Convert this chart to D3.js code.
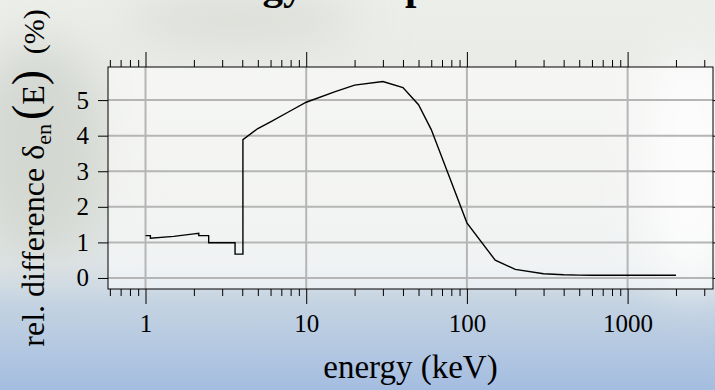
<!DOCTYPE html>
<html>
<head>
<meta charset="utf-8">
<script src="https://cdn.jsdelivr.net/npm/d3@7"></script>
<style>
  html, body { margin: 0; padding: 0; background: #e8ebe8; }
  svg { display: block; font-family: "Liberation Serif", "Times New Roman", serif; }
</style>
</head>
<body>
<svg id="chart" width="715" height="390"></svg>
<script>
// energy grid (keV), absorption edges appear twice
const energies = [1, 1.0721, 1.0721, 1.5, 2, 2.1455, 2.1455, 2.472, 2.472, 3, 3.6074, 3.6074, 4,
  4.0381, 4.0381, 5, 6, 8, 10, 15, 20, 30, 40, 50, 60, 80, 100, 150, 200, 300, 400, 500, 600,
  800, 1000, 1250, 1500, 2000];
// relative difference (%)
const relDiff = [1.19, 1.19, 1.115, 1.17, 1.24, 1.255, 1.19, 1.19, 0.99, 0.99, 0.99, 0.67, 0.67,
  0.67, 3.89, 4.2, 4.39, 4.7, 4.94, 5.23, 5.42, 5.52, 5.35, 4.87, 4.17, 2.7, 1.55, 0.5, 0.24,
  0.12, 0.09, 0.08, 0.078, 0.076, 0.075, 0.075, 0.075, 0.075];

const xMajor = [1, 10, 100, 1000];
const yTicks = [0, 1, 2, 3, 4, 5];

const titleText = "Energy transport";
const xLabel = "energy (keV)";

const svg = d3.select("#chart");
const W = 715, H = 390;
const plot = { left: 108, right: 713, top: 67, bottom: 289 };

// background imitation (photo behind the slide)
const defs = svg.append("defs");
const bg = defs.append("linearGradient").attr("id", "bg").attr("x1", 0).attr("y1", 0).attr("x2", 0).attr("y2", 1);
[[0, "#eceeea"], [0.5, "#e4e7e3"], [0.68, "#dde3e6"], [0.78, "#c4d3e2"], [1, "#a4bde0"]]
  .forEach(s => bg.append("stop").attr("offset", s[0]).attr("stop-color", s[1]));
defs.append("filter").attr("id", "blur").attr("x", "-50%").attr("y", "-50%").attr("width", "200%").attr("height", "200%")
  .append("feGaussianBlur").attr("stdDeviation", 25);

svg.append("rect").attr("width", W).attr("height", H).attr("fill", "url(#bg)");
const blobs = svg.append("g").attr("filter", "url(#blur)");
blobs.append("ellipse").attr("cx", 40).attr("cy", 150).attr("rx", 70).attr("ry", 110).attr("fill", "#d4d8d2");
blobs.append("ellipse").attr("cx", 240).attr("cy", 20).attr("rx", 120).attr("ry", 25).attr("fill", "#d9ddd6");
blobs.append("ellipse").attr("cx", 690).attr("cy", 170).attr("rx", 40).attr("ry", 120).attr("fill", "#fafbfa");

// title (mostly outside the picture)
svg.append("text")
  .attr("x", 176).attr("y", -1)
  .attr("font-size", 41).attr("font-weight", "bold")
  .text(titleText);

// plot panel
svg.append("rect")
  .attr("x", plot.left).attr("y", plot.top)
  .attr("width", plot.right - plot.left).attr("height", plot.bottom - plot.top)
  .attr("fill", "#ffffff").attr("fill-opacity", 0.55);

const x = d3.scaleLog().domain([0.5842, 3400]).range([plot.left, plot.right]);
const y = d3.scaleLinear().domain([-0.31, 5.93]).range([plot.bottom, plot.top]);

const xMinor = x.ticks().filter(v => !xMajor.some(m => Math.abs(m - v) < 1e-9));

// grid
const grid = svg.append("g").attr("stroke", "#b5b5b5").attr("stroke-width", 2);
grid.selectAll(".gx").data(xMajor).join("line")
  .attr("x1", d => x(d)).attr("x2", d => x(d)).attr("y1", plot.top).attr("y2", plot.bottom);
grid.selectAll(".gy").data(yTicks).join("line")
  .attr("y1", d => y(d)).attr("y2", d => y(d)).attr("x1", plot.left).attr("x2", plot.right);

// curve
const line = d3.line().x((d, i) => x(energies[i])).y(d => y(d));
svg.append("path")
  .datum(relDiff)
  .attr("d", line)
  .attr("fill", "none").attr("stroke", "#000").attr("stroke-width", 1.4);

// axes
function styleAxis(g) {
  g.select(".domain").remove();
  g.selectAll(".tick line").attr("stroke", "#000").attr("stroke-width", 1);
  g.selectAll(".tick text").attr("fill", "#000").attr("font-size", 25)
    .attr("font-family", "'Liberation Serif', 'Times New Roman', serif");
}

svg.append("g").attr("transform", `translate(0,${plot.bottom})`)
  .call(d3.axisBottom(x).tickValues(xMajor).tickSize(15).tickPadding(10).tickFormat(d3.format("d")))
  .call(styleAxis);
svg.append("g").attr("transform", `translate(0,${plot.bottom})`)
  .call(d3.axisBottom(x).tickValues(xMinor).tickSize(7).tickFormat(""))
  .call(styleAxis);
svg.append("g").attr("transform", `translate(0,${plot.top})`)
  .call(d3.axisTop(x).tickValues(xMajor).tickSize(15).tickFormat(""))
  .call(styleAxis);
svg.append("g").attr("transform", `translate(0,${plot.top})`)
  .call(d3.axisTop(x).tickValues(xMinor).tickSize(7).tickFormat(""))
  .call(styleAxis);
svg.append("g").attr("transform", `translate(${plot.left},0)`)
  .call(d3.axisLeft(y).tickValues(yTicks).tickSize(10).tickPadding(9).tickFormat(d3.format("d")))
  .call(styleAxis);
svg.append("g").attr("transform", `translate(${plot.right},0)`)
  .call(d3.axisRight(y).tickValues(yTicks).tickSize(10).tickFormat(""))
  .call(styleAxis);

// frame
svg.append("rect")
  .attr("x", plot.left).attr("y", plot.top)
  .attr("width", plot.right - plot.left).attr("height", plot.bottom - plot.top)
  .attr("fill", "none").attr("stroke", "#000").attr("stroke-width", 1);

// axis titles
svg.append("text")
  .attr("x", (plot.left + plot.right) / 2).attr("y", 378)
  .attr("text-anchor", "middle").attr("font-size", 33)
  .text(xLabel);

// y title centred on the panel
const yl = svg.append("text")
  .attr("transform", `translate(44,${(plot.top + plot.bottom) / 2}) rotate(-90)`)
  .attr("text-anchor", "middle")
  .attr("font-size", 32);
yl.append("tspan").text("rel. difference δ");
yl.append("tspan").attr("font-size", 22).attr("dy", 7).text("en");
yl.append("tspan").attr("font-size", 46).attr("dy", -7).attr("dx", 4).text("(");
yl.append("tspan").text("E");
yl.append("tspan").attr("font-size", 46).text(")");
yl.append("tspan").attr("font-size", 30).attr("dx", 8).text(" (%)");
</script>
</body>
</html>
